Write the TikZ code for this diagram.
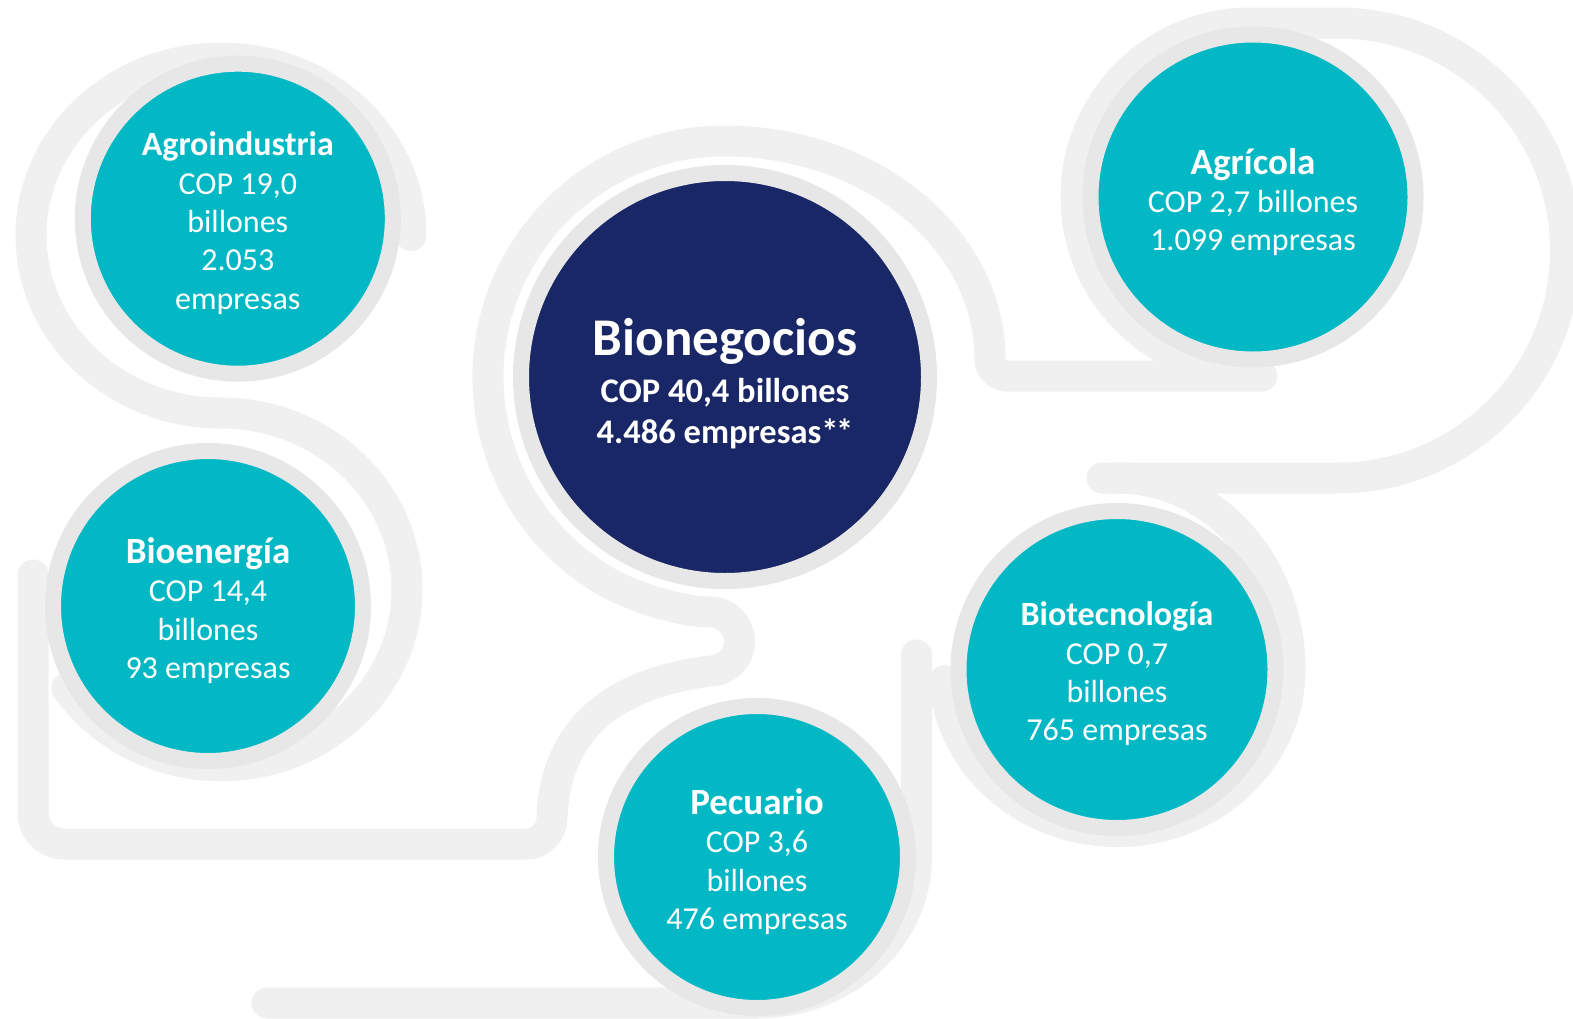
\documentclass[tikz,border=0pt]{standalone}
\usepackage{fontspec}
\setmainfont{Carlito}
\usetikzlibrary{calc}
\definecolor{tealc}{RGB}{2,184,196}
\definecolor{navyc}{RGB}{26,39,102}
\definecolor{ringgray}{RGB}{231,231,231}
\definecolor{pipegray}{RGB}{240,240,240}
\newcommand\bubtitle[2]{{\fontsize{#1}{#1}\selectfont\bfseries #2}}
\tikzset{
  pipe/.style={draw=pipegray, line width=15.5pt, line cap=round},
  bubble/.style={circle, draw=ringgray, line width=8pt, fill=tealc, inner sep=0pt},
  bigbubble/.style={bubble, fill=navyc},
  txt/.style={text=white, align=center, inner sep=0pt, font=\fontsize{16}{19.2}\selectfont},
  bigtxt/.style={text=white, align=center, inner sep=0pt, font=\fontsize{17.25}{20.8}\selectfont\bfseries},
}
\begin{document}
\begin{tikzpicture}[x=0.5pt, y=0.5pt]
\useasboundingbox (0,0) rectangle (1573,-1018);
\fill[white] (0,0) rectangle (1573,-1018);

% background pipes
\draw[pipe] (411,-235.5) arc[start angle=0, end angle=270, x radius=190, y radius=177.5]
  arc[start angle=90, end angle=-146, x radius=186, y radius=176.4];
\draw[pipe] (33,-575) -- (33,-813) arc[start angle=180, end angle=270, radius=31]
  -- (526,-844) arc[start angle=-90, end angle=0, radius=26]
  .. controls (555,-740) and (600,-685) .. (710,-671)
  arc[start angle=-90, end angle=90, radius=29.5]
  .. controls (680,-612) and (632,-596.4) .. (606,-581.4)
  arc[start angle=240, end angle=90, radius=236]
  arc[start angle=90, end angle=0, x radius=266, y radius=218]
  arc[start angle=180, end angle=270, radius=17] -- (1262,-376);
\draw[pipe] (1250,-371) arc[start angle=270, end angle=90, radius=174]
  -- (1338,-23) arc[start angle=90, end angle=-90, radius=227.5] -- (1102,-478);
\draw[pipe] (1117,-478) arc[start angle=90, end angle=0, x radius=173, y radius=191.5]
  arc[start angle=0, end angle=-176, x radius=173, y radius=162];
\draw[pipe] (916.5,-655) -- (916.5,-857)
  arc[start angle=0, end angle=-90, x radius=159.5, y radius=146] -- (267,-1003);

% circles
\node[bubble, minimum size=155pt] (agro) at (237.8,-218.7) {};
\node[bubble, minimum size=155pt] (bioe) at (208,-606) {};
\node[bigbubble, minimum size=204pt] (bion) at (725,-377) {};
\node[bubble, minimum size=162.5pt] (agri) at (1253,-197) {};
\node[bubble, minimum size=158.5pt] (biot) at (1117,-669.5) {};
\node[bubble, minimum size=151pt] (pecu) at (757,-857) {};

% texts
\node[txt] (agrot) at ([yshift=-2.2pt]agro.center) {\bubtitle{17}{Agroindustria}\\COP 19,0\\billones\\2.053\\empresas};
\node[txt] (bioet) at ([yshift=-2.3pt]bioe.center) {\bubtitle{18.5}{Bioenergía}\\COP 14,4\\billones\\93 empresas};
\node[bigtxt] (biont) at ([yshift=-3.5pt]bion.center) {{\fontsize{26.5}{26.5}\selectfont Bionegocios}\\[2.4pt]COP 40,4 billones\\4.486 empresas*\kern-1.2pt*};
\node[txt] (agrit) at ([yshift=-2.5pt]agri.center) {\bubtitle{18.5}{Agrícola}\\COP 2,7 billones\\1.099 empresas};
\node[txt] (biott) at ([yshift=-2.2pt]biot.center) {\bubtitle{17}{Biotecnología}\\COP 0,7\\billones\\765 empresas};
\node[txt] (pecut) at ([yshift=-2.3pt]pecu.center) {\bubtitle{18.5}{Pecuario}\\COP 3,6\\billones\\476 empresas};
\end{tikzpicture}
\end{document}
